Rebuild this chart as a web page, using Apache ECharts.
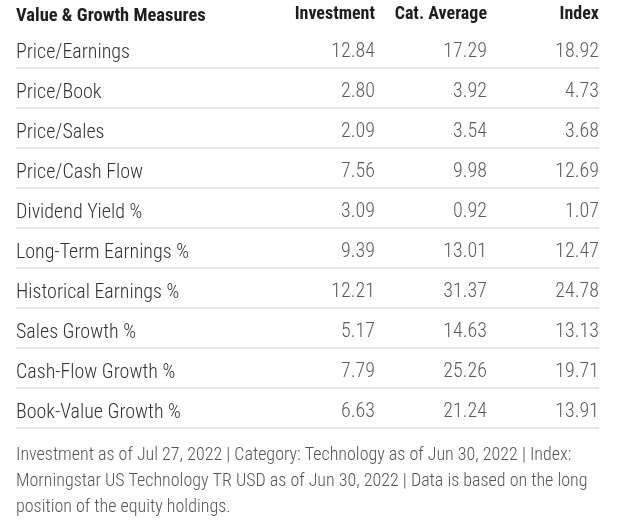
<!DOCTYPE html>
<html>
<head>
<meta charset="utf-8">
<script src="https://cdn.jsdelivr.net/npm/echarts@6/dist/echarts.min.js"></script>
<style>
html,body{margin:0;padding:0;background:#fff;}
#chart{width:640px;height:530px;}
</style>
</head>
<body>
<div id="chart"></div>
<script>
const headerLabel = 'Value & Growth Measures';
const columnNames = ['Investment', 'Cat. Average', 'Index'];
const rowLabels = ['Price/Earnings', 'Price/Book', 'Price/Sales', 'Price/Cash Flow', 'Dividend Yield %',
  'Long-Term Earnings %', 'Historical Earnings %', 'Sales Growth %', 'Cash-Flow Growth %', 'Book-Value Growth %'];
const investment = [12.84, 2.80, 2.09, 7.56, 3.09, 9.39, 12.21, 5.17, 7.79, 6.63];
const catAverage = [17.29, 3.92, 3.54, 9.98, 0.92, 13.01, 31.37, 14.63, 25.26, 21.24];
const indexVals = [18.92, 4.73, 3.68, 12.69, 1.07, 12.47, 24.78, 13.13, 19.71, 13.91];
const footnoteLines = [
  'Investment as of Jul 27, 2022 | Category: Technology as of Jun 30, 2022 | Index:',
  'Morningstar US Technology TR USD as of Jun 30, 2022 | Data is based on the long',
  'position of the equity holdings.'
];

const FONT = "'Roboto Condensed','Liberation Sans Narrow','Arial Narrow','DejaVu Sans Condensed',sans-serif";
const GRID_LEFT = 16, GRID_RIGHT = 41, GRID_TOP = 28, ROW_H = 40, COL_W = 112;
const plotW = 640 - GRID_LEFT - GRID_RIGHT;
const xMax = columnNames.length;
const xMin = xMax - plotW / COL_W;

const seriesValues = [investment, catAverage, indexVals];
const series = seriesValues.map((vals, c) => ({
  type: 'scatter',
  name: columnNames[c],
  symbolSize: 0,
  silent: true,
  encode: { x: 0, y: 1 },
  data: vals.map((v, i) => [c + 1, rowLabels[i], v]),
  label: {
    show: true,
    position: 'left',
    distance: 0,
    offset: [0, 4],
    fontFamily: FONT,
    fontSize: 20,
    fontWeight: 300,
    color: '#333',
    formatter: p => p.value[2].toFixed(2)
  }
}));

const chart = echarts.init(document.getElementById('chart'), null, { renderer: 'canvas' });
chart.setOption({
  animation: false,
  backgroundColor: '#fff',
  title: {
    text: headerLabel,
    left: GRID_LEFT - 5,
    top: 2,
    textStyle: { fontFamily: FONT, fontSize: 18.5, fontWeight: 'bold', color: '#1e1e1e' }
  },
  grid: { left: GRID_LEFT, right: GRID_RIGHT, top: GRID_TOP, height: ROW_H * rowLabels.length },
  xAxis: {
    type: 'value',
    position: 'top',
    min: xMin,
    max: xMax,
    axisLine: { show: false },
    axisTick: { show: false },
    splitLine: { show: false },
    axisLabel: {
      customValues: columnNames.map((_, i) => i + 1),
      formatter: v => columnNames[Math.round(v) - 1] || '',
      align: 'right',
      margin: 5,
      fontFamily: FONT,
      fontSize: 18,
      fontWeight: 'bold',
      color: '#1e1e1e'
    }
  },
  yAxis: {
    type: 'category',
    inverse: true,
    data: rowLabels,
    axisLine: { show: false },
    axisTick: { show: false },
    axisLabel: {
      inside: true,
      margin: 0,
      formatter: v => '{a|' + v + '}',
      rich: {
        a: {
          fontFamily: FONT,
          fontSize: 20,
          fontWeight: 300,
          color: '#333',
          padding: [10, 0, 0, 0]
        }
      }
    },
    splitLine: {
      show: true,
      interval: (i) => i > 0,
      lineStyle: { color: '#e8e8e8', width: 2 }
    }
  },
  graphic: [{
    type: 'text',
    left: GRID_LEFT,
    top: 442,
    style: {
      text: footnoteLines.join('\n'),
      font: '300 18px ' + FONT,
      fill: '#555',
      lineHeight: 26
    }
  }],
  series: series
});
</script>
</body>
</html>
